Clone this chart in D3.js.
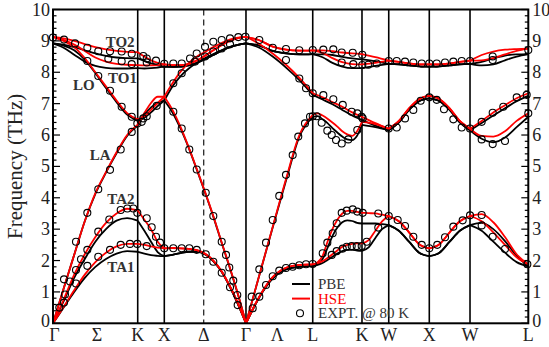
<!DOCTYPE html>
<html lang="en">
<head>
<meta charset="UTF-8">
<title>Phonon dispersion: PBE, HSE and experiment</title>
<script src="https://d3js.org/d3.v7.min.js"></script>
<style>
  body { margin: 0; background: #fff; }
  svg { display: block; font-family: "Liberation Serif", "Times New Roman", serif; }
  .branch { fill: none; stroke-width: 1.8px; stroke-linejoin: round; }
  .expt { fill: none; stroke: #000; stroke-width: 1.1px; }
  .blabel { font-weight: bold; font-size: 15px; fill: #333; }
</style>
</head>
<body>
<svg id="chart" width="549" height="347"></svg>
<script>
// high-symmetry points along the path (q in units of 2pi/a)
const symQ = [0, 1.061, 1.394, 2.417, 3.253, 3.870, 4.205, 4.713, 5.223, 5.953];
const deltaQ = 1.888;
const pathLabels = ["Γ","Σ","K","X","Δ","Γ","Λ","L","K","W","X","W","L"];
const pathLabelQ = [0, 0.55, 1.061, 1.394, 1.888, 2.417, 2.81, 3.253, 3.870, 4.205, 4.713, 5.223, 5.953];
const yTicks = [0,1,2,3,4,5,6,7,8,9,10];

// branch frequencies (THz), one list per path segment, evenly spaced along it
// segments: Γ-K, K-X, X-Γ, Γ-L, L-K, K-W, W-X, X-W, W-L
const hseTA1 = [
  [0, 0.52, 1.05, 1.55, 1.95, 2.25, 2.45, 2.53, 2.53],
  [2.53, 2.5, 2.45, 2.41, 2.39],
  [2.39, 2.4, 2.39, 2.37, 2.33, 2.22, 2.0, 1.67, 1.2, 0.65, 0],
  [0, 0.85, 1.47, 1.77, 1.86, 1.88],
  [1.88, 1.92, 1.98, 2.08, 2.2, 2.32, 2.44, 2.5, 2.53, 2.55, 2.55],
  [2.55, 2.65, 2.95, 3.25, 3.42],
  [3.42, 3.25, 2.9, 2.52, 2.39],
  [2.39, 2.52, 2.9, 3.25, 3.42],
  [3.42, 3.25, 2.9, 2.5, 2.1, 1.88]
];
const hseTA2 = [
  [0, 0.75, 1.55, 2.2, 2.75, 3.2, 3.5, 3.65, 3.6],
  [3.6, 3.3, 3.0, 2.6, 2.39],
  [2.39, 2.4, 2.39, 2.37, 2.33, 2.22, 2.0, 1.67, 1.2, 0.65, 0],
  [0, 0.85, 1.47, 1.77, 1.86, 1.88],
  [1.88, 1.95, 2.15, 2.6, 3.0, 3.3, 3.5, 3.58, 3.58, 3.55, 3.52],
  [3.52, 3.51, 3.5, 3.46, 3.42],
  [3.42, 3.25, 2.9, 2.52, 2.39],
  [2.39, 2.52, 2.9, 3.25, 3.42],
  [3.42, 3.48, 3.22, 2.75, 2.2, 1.88]
];
const hseLA = [
  [0, 1.1, 2.18, 3.25, 4.15, 4.82, 5.45, 6.0, 6.33],
  [6.33, 6.7, 7.02, 7.22, 7.22],
  [7.22, 6.8, 6.25, 5.6, 4.9, 4.18, 3.42, 2.6, 1.8, 0.95, 0],
  [0, 1.53, 3.07, 4.6, 6.0, 6.64],
  [6.64, 6.69, 6.62, 6.52, 6.4, 6.27, 6.12, 6.02, 5.97, 6.12, 6.42],
  [6.42, 6.35, 6.2],
  [6.2, 6.45, 6.85, 7.15, 7.25],
  [7.25, 7.15, 6.85, 6.45, 6.2],
  [6.2, 5.97, 5.95, 6.12, 6.45, 6.69]
];
const hseLO = [
  [9.13, 9.0, 8.8, 8.45, 8.0, 7.55, 7.1, 6.7, 6.5],
  [6.5, 6.6, 6.8, 7.02, 7.22],
  [7.22, 7.65, 8.02, 8.3, 8.5, 8.65, 8.8, 8.93, 9.04, 9.1, 9.13],
  [9.13, 8.9, 8.6, 8.24, 7.82, 7.33],
  [7.33, 7.2, 7.05, 6.9, 6.72, 6.58],
  [6.58, 6.38, 6.2],
  [6.2, 6.45, 6.85, 7.15, 7.25],
  [7.25, 7.15, 6.85, 6.45, 6.2],
  [6.2, 6.45, 6.72, 6.95, 7.17, 7.33]
];
const hseTO1 = [
  [9.13, 9.03, 8.88, 8.68, 8.47, 8.34, 8.27, 8.24, 8.23],
  [8.23, 8.22, 8.22, 8.23, 8.25],
  [8.25, 8.23, 8.23, 8.27, 8.38, 8.53, 8.7, 8.86, 9.0, 9.09, 9.13],
  [9.13, 9.02, 8.82, 8.72, 8.69, 8.7],
  [8.7, 8.62, 8.45, 8.32, 8.26, 8.25],
  [8.25, 8.3, 8.37],
  [8.37, 8.33, 8.28, 8.25, 8.25],
  [8.25, 8.25, 8.28, 8.33, 8.37],
  [8.37, 8.38, 8.45, 8.57, 8.68, 8.75]
];
const hseTO2 = [
  [9.13, 9.08, 9.0, 8.9, 8.8, 8.73, 8.68, 8.65, 8.64],
  [8.64, 8.5, 8.38, 8.3, 8.25],
  [8.25, 8.23, 8.23, 8.27, 8.38, 8.53, 8.7, 8.86, 9.0, 9.09, 9.13],
  [9.13, 9.02, 8.82, 8.72, 8.69, 8.7],
  [8.7, 8.7, 8.67, 8.63, 8.6, 8.58],
  [8.58, 8.48, 8.37],
  [8.37, 8.33, 8.28, 8.25, 8.25],
  [8.25, 8.25, 8.28, 8.33, 8.37],
  [8.37, 8.55, 8.66, 8.72, 8.74, 8.75]
];

const pbeTA1 = [
  [0, 0.5, 1.0, 1.45, 1.8, 2.05, 2.22, 2.3, 2.28],
  [2.28, 2.22, 2.17, 2.15, 2.14],
  [2.14, 2.18, 2.24, 2.28, 2.28, 2.2, 1.98, 1.65, 1.18, 0.62, 0],
  [0, 0.83, 1.43, 1.72, 1.8, 1.82],
  [1.82, 1.86, 1.92, 2.02, 2.12, 2.22, 2.3, 2.34, 2.34, 2.32, 2.31],
  [2.31, 2.42, 2.72, 3.0, 3.13],
  [3.13, 2.95, 2.6, 2.25, 2.14],
  [2.14, 2.25, 2.6, 2.95, 3.13],
  [3.13, 2.95, 2.6, 2.25, 1.95, 1.82]
];
const pbeTA2 = [
  [0, 0.7, 1.45, 2.05, 2.6, 3.0, 3.27, 3.35, 3.27],
  [3.27, 2.95, 2.6, 2.27, 2.14],
  [2.14, 2.18, 2.24, 2.28, 2.28, 2.2, 1.98, 1.65, 1.18, 0.62, 0],
  [0, 0.83, 1.43, 1.72, 1.8, 1.82],
  [1.82, 1.88, 2.05, 2.4, 2.78, 3.05, 3.22, 3.28, 3.26, 3.2, 3.18],
  [3.18, 3.18, 3.18, 3.16, 3.13],
  [3.13, 2.95, 2.6, 2.25, 2.14],
  [2.14, 2.25, 2.6, 2.95, 3.13],
  [3.13, 3.2, 3.0, 2.62, 2.15, 1.82]
];
const pbeLA = [
  [0, 1.1, 2.18, 3.25, 4.12, 4.8, 5.42, 5.97, 6.3],
  [6.3, 6.65, 6.88, 7.03, 7.1],
  [7.1, 6.72, 6.2, 5.58, 4.88, 4.16, 3.4, 2.58, 1.78, 0.93, 0],
  [0, 1.53, 3.05, 4.55, 5.95, 6.58],
  [6.58, 6.6, 6.5, 6.38, 6.22, 6.08, 5.95, 5.86, 5.84, 5.98, 6.32],
  [6.32, 6.25, 6.15],
  [6.15, 6.4, 6.8, 7.08, 7.17],
  [7.17, 7.08, 6.8, 6.4, 6.15],
  [6.15, 5.88, 5.77, 5.92, 6.25, 6.58]
];
const pbeLO = [
  [8.92, 8.85, 8.7, 8.4, 7.97, 7.5, 7.05, 6.65, 6.45],
  [6.45, 6.55, 6.72, 6.92, 7.1],
  [7.1, 7.55, 7.88, 8.12, 8.3, 8.45, 8.58, 8.7, 8.8, 8.87, 8.92],
  [8.92, 8.78, 8.5, 8.15, 7.75, 7.28],
  [7.28, 7.13, 6.98, 6.8, 6.62, 6.48],
  [6.48, 6.3, 6.15],
  [6.15, 6.4, 6.8, 7.08, 7.17],
  [7.17, 7.08, 6.8, 6.4, 6.15],
  [6.15, 6.38, 6.62, 6.85, 7.08, 7.25]
];
const pbeTO1 = [
  [8.92, 8.78, 8.56, 8.34, 8.2, 8.14, 8.12, 8.12, 8.13],
  [8.13, 8.12, 8.13, 8.15, 8.18],
  [8.18, 8.17, 8.18, 8.22, 8.3, 8.42, 8.55, 8.68, 8.8, 8.87, 8.92],
  [8.92, 8.85, 8.68, 8.6, 8.57, 8.58],
  [8.58, 8.48, 8.3, 8.18, 8.13, 8.13],
  [8.13, 8.2, 8.27],
  [8.27, 8.25, 8.22, 8.19, 8.18],
  [8.18, 8.19, 8.22, 8.25, 8.27],
  [8.27, 8.22, 8.25, 8.38, 8.5, 8.58]
];
const pbeTO2 = [
  [8.92, 8.88, 8.8, 8.7, 8.6, 8.52, 8.47, 8.45, 8.44],
  [8.44, 8.36, 8.28, 8.22, 8.18],
  [8.18, 8.17, 8.18, 8.22, 8.3, 8.42, 8.55, 8.68, 8.8, 8.87, 8.92],
  [8.92, 8.85, 8.68, 8.6, 8.57, 8.58],
  [8.58, 8.57, 8.55, 8.49, 8.44, 8.41],
  [8.41, 8.35, 8.27],
  [8.27, 8.25, 8.22, 8.19, 8.18],
  [8.18, 8.19, 8.22, 8.25, 8.27],
  [8.27, 8.33, 8.44, 8.53, 8.57, 8.58]
];

// experiment at 80 K: [q, THz]
const exptOptic = [
  [0.0, 9.11], [0.138, 9.04], [0.276, 8.92], [0.43, 8.78], [0.567, 8.67], [0.714, 8.67],
  [0.86, 8.66], [0.986, 8.59], [1.131, 8.52], [1.29, 8.37], [1.174, 8.44],
  [0.693, 8.43], [0.86, 8.35], [0.986, 8.26], [1.174, 8.31],
  [1.394, 8.27], [1.507, 8.28], [1.612, 8.28], [1.716, 8.44], [1.8, 8.6], [1.904, 8.81],
  [2.008, 8.97], [2.113, 9.03], [2.217, 9.08], [2.321, 9.12], [2.41, 9.13],
  [1.779, 8.34], [1.904, 8.5], [2.008, 8.66], [2.113, 8.76], [2.217, 8.89],
  [2.584, 9.03], [2.752, 8.78], [2.918, 8.74], [3.085, 8.7], [3.253, 8.71],
  [2.918, 8.39], [3.085, 7.8], [3.169, 7.49], [3.253, 7.33],
  [3.386, 8.72], [3.511, 8.73], [3.616, 8.63], [3.754, 8.62], [3.874, 8.56],
  [3.616, 8.31], [3.761, 8.26], [3.874, 8.23], [3.949, 8.24], [4.054, 8.28],
  [4.205, 8.36], [4.305, 8.36], [4.409, 8.34], [4.513, 8.31], [4.618, 8.28], [4.713, 8.28],
  [4.806, 8.28], [4.91, 8.31], [5.014, 8.34], [5.119, 8.36], [5.223, 8.36],
  [5.507, 8.5], [5.507, 8.39], [5.953, 8.71]
];
const exptLong = [
  [0.43, 8.36], [0.567, 7.88], [0.714, 7.41], [0.86, 6.9], [0.986, 6.58], [1.131, 6.53],
  [1.174, 6.6], [1.299, 6.93],
  [0.288, 2.6], [0.43, 3.52], [0.567, 4.27], [0.714, 4.89], [0.848, 5.54], [0.986, 6.1],
  [1.056, 6.37], [1.111, 6.42],
  [1.507, 7.65], [1.612, 7.97],
  [1.507, 6.74], [1.612, 6.21], [1.707, 5.54], [1.8, 4.9], [1.913, 4.16], [2.008, 3.42],
  [2.113, 2.6], [2.167, 2.18], [2.208, 1.78], [2.258, 1.36], [2.308, 0.9],
  [2.584, 1.72], [2.668, 2.57], [2.752, 3.29], [2.834, 4.06], [2.918, 4.73], [3.002, 5.36],
  [3.072, 5.95], [3.156, 6.37], [3.219, 6.58], [3.253, 6.6],
  [3.303, 6.6], [3.365, 6.39], [3.436, 6.14], [3.491, 6.0], [3.545, 5.84], [3.616, 5.73],
  [3.699, 5.86], [3.811, 6.16], [3.866, 6.58],
  [3.386, 7.27], [3.511, 7.14], [3.629, 6.96], [3.741, 6.74], [3.811, 6.69], [3.879, 6.53],
  [4.205, 6.21], [4.305, 6.24], [4.409, 6.53], [4.513, 6.8], [4.605, 7.09], [4.713, 7.2],
  [4.806, 7.12], [4.897, 6.82], [5.014, 6.5], [5.119, 6.24], [5.223, 6.21],
  [5.369, 5.86], [5.507, 5.71], [5.661, 5.81],
  [5.369, 6.42], [5.507, 6.71], [5.64, 6.9], [5.808, 7.2], [5.933, 7.28], [5.953, 6.69]
];
const exptTrans = [
  [0.079, 0.5], [0.138, 0.66], [0.15, 0.92], [0.138, 1.4], [0.213, 1.33], [0.288, 1.27],
  [0.288, 1.7], [0.351, 2.04], [0.43, 1.83], [0.43, 2.34], [0.567, 2.92], [0.705, 3.31],
  [0.848, 3.61], [0.931, 3.66], [1.006, 3.66], [1.056, 3.52],
  [0.567, 2.12], [0.714, 2.34], [0.848, 2.5], [0.964, 2.53], [1.056, 2.53], [1.174, 2.46],
  [1.174, 3.35], [1.236, 3.06], [1.29, 2.76], [1.34, 2.57],
  [1.394, 2.39], [1.507, 2.39], [1.612, 2.39], [1.707, 2.39], [1.8, 2.34], [1.913, 2.2],
  [2.008, 1.96], [2.113, 1.61], [2.217, 1.15], [2.313, 0.58],
  [2.489, 0.85], [2.501, 0.48], [2.584, 0.85], [2.668, 1.22], [2.752, 1.5], [2.834, 1.68],
  [2.918, 1.76], [3.002, 1.8], [3.085, 1.85], [3.169, 1.88], [3.253, 1.89],
  [3.378, 2.23], [3.436, 2.57], [3.503, 2.87], [3.553, 3.19], [3.616, 3.52], [3.679, 3.59],
  [3.754, 3.63], [3.811, 3.56], [3.879, 3.52],
  [3.491, 2.18], [3.553, 2.3], [3.629, 2.38], [3.679, 2.44], [3.741, 2.46], [3.804, 2.46],
  [3.866, 2.46], [3.929, 2.6],
  [4.074, 3.5], [4.074, 3.05], [4.205, 3.42],
  [4.317, 3.29], [4.409, 3.1], [4.513, 2.76], [4.618, 2.5], [4.713, 2.39],
  [4.813, 2.5], [4.91, 2.74], [5.014, 3.08], [5.131, 3.28], [5.223, 3.44],
  [5.369, 3.45], [5.369, 3.12], [5.507, 2.76], [5.661, 2.37], [5.941, 1.88]
];

const svg = d3.select("#chart");
const plotL = 53, plotR = 528.3, plotT = 9.5, plotB = 323.3;

const x = d3.scaleLinear().domain([0, symQ[symQ.length - 1]]).range([plotL, plotR]);
const y = d3.scaleLinear().domain([0, 10]).range([plotB, plotT]);

// vertical lines at the high-symmetry points
svg.append("g").selectAll("line")
  .data(symQ.slice(1, -1))
  .enter().append("line")
  .attr("x1", d => x(d)).attr("x2", d => x(d))
  .attr("y1", plotT).attr("y2", plotB)
  .attr("stroke", "#000").attr("stroke-width", 1.6);

svg.append("line")
  .attr("x1", x(deltaQ)).attr("x2", x(deltaQ))
  .attr("y1", plotT).attr("y2", plotB)
  .attr("stroke", "#000").attr("stroke-width", 1.1)
  .attr("stroke-dasharray", "6,4");

// y ticks, both sides, pointing inward
const minor = d3.range(0, 10.001, 0.2).filter(v => Math.abs(v - Math.round(v)) > 0.01);
const ticks = svg.append("g").attr("stroke", "#000").attr("stroke-width", 1.2);
[[plotL, 1], [plotR, -1]].forEach(([x0, dir]) => {
  ticks.selectAll(null).data(yTicks).enter().append("line")
    .attr("x1", x0).attr("x2", x0 + dir * 7)
    .attr("y1", d => y(d)).attr("y2", d => y(d));
  ticks.selectAll(null).data(minor).enter().append("line")
    .attr("x1", x0).attr("x2", x0 + dir * 3.5)
    .attr("y1", d => y(d)).attr("y2", d => y(d));
});

svg.append("g").selectAll("text").data(yTicks).enter().append("text")
  .attr("x", plotL - 3).attr("y", d => y(d) + (d === 0 ? 4 : 6))
  .attr("text-anchor", "end").attr("font-size", 18).attr("fill", "#222")
  .text(d => d);
svg.append("g").selectAll("text").data(yTicks).enter().append("text")
  .attr("x", plotR + 4).attr("y", d => y(d) + (d === 0 ? 4 : 6))
  .attr("text-anchor", "start").attr("font-size", 18).attr("fill", "#222")
  .text(d => d);

svg.append("g").selectAll("text").data(pathLabels).enter().append("text")
  .attr("x", (d, i) => x(pathLabelQ[i]) + (i === 0 ? 1.5 : 0)).attr("y", 341)
  .attr("text-anchor", "middle").attr("font-size", 18).attr("fill", "#222")
  .text(d => d);

svg.append("text")
  .attr("transform", `translate(22,${(plotT + plotB) / 2}) rotate(-90)`)
  .attr("text-anchor", "middle").attr("font-size", 21).attr("fill", "#222")
  .text("Frequency (THz)");

// dispersion branches
const line = d3.line().x(d => x(d[0])).y(d => y(d[1])).curve(d3.curveMonotoneX);

function segments(branch) {
  return branch.map((vals, s) => {
    const q0 = symQ[s], q1 = symQ[s + 1];
    return vals.map((f, i) => [q0 + (q1 - q0) * i / (vals.length - 1), f]);
  });
}

function drawBranches(list, color) {
  const g = svg.append("g");
  list.forEach(b => {
    g.selectAll(null).data(segments(b)).enter().append("path")
      .attr("class", "branch").attr("stroke", color)
      .attr("d", line);
  });
}

drawBranches([pbeTA1, pbeTA2, pbeLA, pbeLO, pbeTO1, pbeTO2], "#000");
drawBranches([hseTA1, hseTA2, hseLA, hseLO, hseTO1, hseTO2], "#ff0000");

svg.append("g").selectAll("circle")
  .data(exptOptic.concat(exptLong, exptTrans))
  .enter().append("circle")
  .attr("class", "expt")
  .attr("cx", d => x(d[0])).attr("cy", d => y(d[1])).attr("r", 3.5);

// frame
svg.append("rect")
  .attr("x", plotL).attr("y", plotT)
  .attr("width", plotR - plotL).attr("height", plotB - plotT)
  .attr("fill", "none").attr("stroke", "#000").attr("stroke-width", 2);

// branch names
const branchNames = [["TO2", 0.66, 8.82], ["TO1", 0.69, 7.67], ["LO", 0.25, 7.43],
                     ["LA", 0.46, 5.2], ["TA2", 0.68, 3.8], ["TA1", 0.68, 1.64]];
svg.append("g").selectAll("text").data(branchNames).enter().append("text")
  .attr("class", "blabel")
  .attr("x", d => x(d[1])).attr("y", d => y(d[2]))
  .text(d => d[0]);

// legend
const legend = svg.append("g");
const legendItems = [["PBE", "#000", "#333"], ["HSE", "#ff0000", "#ff0000"], ["EXPT. @ 80 K", null, "#333"]];
legendItems.forEach(([name, color, textColor], i) => {
  const ly = 284 + i * 14.6;
  if (color) {
    legend.append("line").attr("x1", 292).attr("x2", 310)
      .attr("y1", ly).attr("y2", ly).attr("stroke", color).attr("stroke-width", 2);
  } else {
    legend.append("circle").attr("class", "expt").attr("cx", 300).attr("cy", ly).attr("r", 3.5);
  }
  legend.append("text").attr("x", 318).attr("y", ly + 5)
    .attr("font-size", 15).attr("fill", textColor).text(name);
});
</script>
</body>
</html>
